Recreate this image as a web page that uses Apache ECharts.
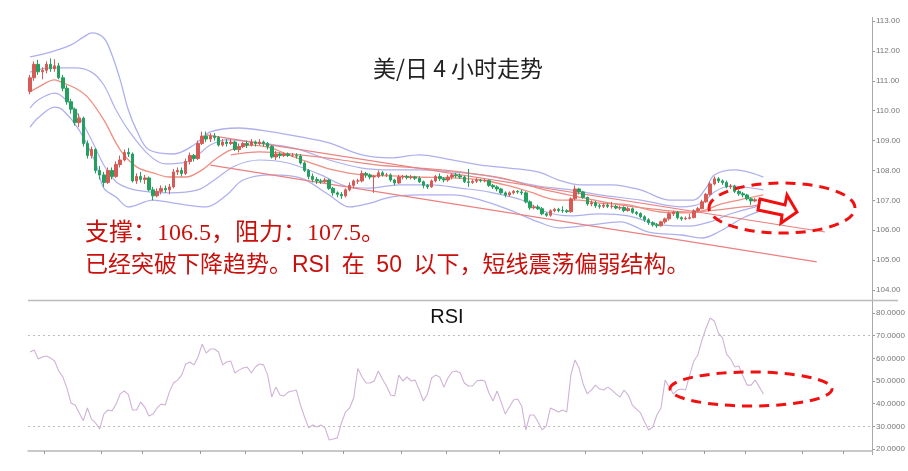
<!DOCTYPE html>
<html><head><meta charset="utf-8">
<script src="https://cdn.jsdelivr.net/npm/echarts@6/dist/echarts.min.js"></script>
<style>html,body{margin:0;padding:0;background:#fff}#c{width:908px;height:471px}</style>
</head><body><div id="c"></div>
<script>
// ---- data (4-hour USD/JPY candles) ----
const opens = [
110.65,111.10,111.55,111.30,111.35,111.55,111.40,111.50,111.10,110.75,
110.30,110.05,109.60,109.75,108.90,108.50,108.70,108.00,107.85,107.60,
108.00,107.80,108.20,108.35,108.60,108.55,107.65,107.80,107.70,107.75,
107.35,107.15,107.30,107.40,107.35,107.45,107.95,108.00,107.90,108.30,
108.50,108.40,108.90,109.15,109.05,109.15,109.10,108.85,108.95,108.90,
108.95,108.70,108.80,108.90,108.85,108.95,108.90,108.95,108.90,108.80,
108.45,108.55,108.50,108.55,108.50,108.50,108.48,108.25,108.00,107.80,
107.70,107.65,107.62,107.68,107.40,107.25,107.20,107.15,107.35,107.50,
107.65,107.65,107.90,107.85,107.78,107.80,107.92,107.85,107.85,107.68,
107.58,107.78,107.80,107.76,107.78,107.74,107.62,107.50,107.45,107.65,
107.80,107.72,107.68,107.78,107.85,107.82,107.78,107.62,107.60,107.64,
107.68,107.66,107.66,107.50,107.45,107.38,107.25,107.18,107.25,107.30,
107.28,107.25,106.95,106.75,106.78,106.72,106.55,106.50,106.65,106.70,
106.66,106.65,106.62,107.05,107.38,107.28,107.10,106.88,106.92,106.82,
106.80,106.84,106.80,106.80,106.74,106.76,106.66,106.72,106.60,106.56,
106.45,106.35,106.25,106.18,106.15,106.28,106.38,106.55,106.60,106.42,
106.38,106.40,106.42,106.65,106.72,106.95,107.20,107.55,107.72,107.65,
107.60,107.45,107.48,107.30,107.22,107.18,107.05,106.98,107.02,106.96];
const closes = [
111.10,111.55,111.30,111.35,111.55,111.40,111.50,111.10,110.75,110.30,
110.05,109.60,109.75,108.90,108.50,108.70,108.00,107.85,107.60,108.00,
107.80,108.20,108.35,108.60,108.55,107.65,107.80,107.70,107.75,107.35,
107.15,107.30,107.40,107.35,107.45,107.95,108.00,107.90,108.30,108.50,
108.40,108.90,109.15,109.05,109.15,109.10,108.85,108.95,108.90,108.95,
108.70,108.80,108.90,108.85,108.95,108.90,108.95,108.90,108.80,108.45,
108.55,108.50,108.55,108.50,108.50,108.48,108.25,108.00,107.80,107.70,
107.65,107.62,107.68,107.40,107.25,107.20,107.15,107.35,107.50,107.65,
107.65,107.90,107.85,107.78,107.80,107.92,107.85,107.85,107.68,107.58,
107.78,107.80,107.76,107.78,107.74,107.62,107.50,107.45,107.65,107.80,
107.72,107.68,107.78,107.85,107.82,107.78,107.62,107.60,107.64,107.68,
107.66,107.66,107.50,107.45,107.38,107.25,107.18,107.25,107.30,107.28,
107.25,106.95,106.75,106.78,106.72,106.55,106.50,106.65,106.70,106.66,
106.65,106.62,107.05,107.38,107.28,107.10,106.88,106.92,106.82,106.80,
106.84,106.80,106.80,106.74,106.76,106.66,106.72,106.60,106.56,106.45,
106.35,106.25,106.18,106.15,106.28,106.38,106.55,106.60,106.42,106.38,
106.40,106.42,106.65,106.72,106.95,107.20,107.55,107.72,107.65,107.60,
107.45,107.48,107.30,107.22,107.18,107.05,106.98,107.02,106.96,106.92];
const lows = [
110.55,111.00,111.20,111.05,111.25,111.30,111.30,111.05,110.65,110.20,
109.90,109.50,109.45,108.80,108.40,108.40,107.90,107.70,107.45,107.55,
107.70,107.75,108.10,108.30,108.45,107.60,107.55,107.60,107.55,107.30,
107.00,107.10,107.20,107.25,107.20,107.40,107.85,107.80,107.85,108.20,
108.30,108.35,108.85,108.95,108.95,109.00,108.80,108.80,108.80,108.85,
108.65,108.60,108.75,108.75,108.80,108.80,108.85,108.80,108.70,108.40,
108.35,108.40,108.45,108.45,108.45,108.40,108.20,107.95,107.70,107.60,
107.55,107.55,107.58,107.35,107.15,107.10,107.05,107.10,107.30,107.40,
107.55,107.60,107.75,107.70,107.25,107.75,107.80,107.78,107.62,107.50,
107.55,107.70,107.70,107.70,107.68,107.58,107.40,107.38,107.42,107.60,
107.65,107.60,107.62,107.70,107.75,107.72,107.58,107.45,107.55,107.58,
107.60,107.60,107.45,107.38,107.30,107.20,107.10,107.12,107.20,107.22,
107.18,106.90,106.68,106.70,106.68,106.50,106.45,106.45,106.60,106.60,
106.58,106.58,106.58,107.00,107.20,107.05,106.82,106.80,106.75,106.72,
106.74,106.74,106.72,106.70,106.68,106.60,106.62,106.55,106.50,106.40,
106.28,106.18,106.12,106.08,106.12,106.22,106.32,106.48,106.36,106.32,
106.34,106.36,106.40,106.60,106.70,106.92,107.15,107.50,107.58,107.52,
107.40,107.38,107.25,107.15,107.10,107.00,106.85,106.94,106.90,106.86];
const highs = [
111.20,111.65,111.70,111.45,111.65,111.75,111.72,111.60,111.20,110.85,
110.40,110.10,109.90,109.80,109.00,108.80,108.75,108.15,107.95,108.10,
108.10,108.30,108.50,108.70,108.75,108.60,107.90,107.95,107.85,107.80,
107.45,107.40,107.50,107.50,107.55,108.05,108.10,108.10,108.40,108.60,
108.55,109.00,109.30,109.30,109.25,109.25,109.15,109.05,109.05,109.05,
109.00,108.90,108.95,109.00,109.05,109.00,109.05,109.00,108.95,108.85,
108.65,108.60,108.60,108.60,108.58,108.58,108.55,108.30,108.05,107.90,
107.78,107.72,107.75,107.72,107.45,107.30,107.28,107.40,107.60,107.70,
107.72,108.00,107.95,107.90,107.85,108.00,107.98,107.92,107.90,107.72,
107.85,107.85,107.85,107.85,107.82,107.80,107.66,107.55,107.70,107.85,
107.90,107.78,107.85,107.90,107.92,107.90,107.82,108.05,107.70,107.75,
107.72,107.72,107.70,107.55,107.50,107.42,107.30,107.30,107.35,107.34,
107.35,107.30,107.00,106.85,106.85,106.78,106.60,106.70,106.75,106.75,
106.80,106.70,107.10,107.50,107.42,107.32,107.12,107.00,106.98,106.88,
106.92,106.90,106.95,106.85,106.82,106.80,106.78,106.76,106.64,106.60,
106.50,106.40,106.30,106.24,106.32,106.42,106.62,106.65,106.64,106.46,
106.46,106.55,106.70,106.78,107.02,107.25,107.62,107.80,107.78,107.70,
107.66,107.55,107.52,107.36,107.28,107.22,107.10,107.08,107.06,107.00];
const rsi = [
62.8,63.7,59.7,60.6,61.0,60.1,58.8,54.4,51.8,46.9,
40.3,39.4,35.9,32.5,38.1,33.2,31.5,28.8,35.4,37.2,
36.8,39.8,44.3,45.6,44.0,37.2,37.2,40.7,38.5,34.6,
35.4,38.1,39.8,39.4,45.1,49.1,50.4,52.6,57.5,58.4,
57.1,60.6,66.3,62.3,64.1,64.1,62.8,57.1,58.4,58.8,
53.5,54.8,55.7,56.2,53.5,56.2,57.5,57.1,52.6,42.9,
47.3,43.8,43.4,45.1,45.6,46.0,39.4,34.1,29.3,30.6,
29.7,30.6,29.3,24.0,24.4,24.9,31.5,36.3,38.1,42.5,
55.5,52.0,49.1,49.1,50.0,54.4,50.9,47.8,43.8,43.4,
52.6,50.0,51.8,50.0,50.4,46.0,41.2,44.3,51.3,52.6,
51.8,47.3,51.3,54.0,54.4,53.5,49.1,47.8,47.8,50.0,
50.4,50.0,44.7,41.2,45.6,40.7,35.4,38.5,41.6,42.1,
39.0,28.4,35.0,35.0,31.9,28.4,30.1,38.1,37.2,36.3,
37.2,36.3,52.6,59.3,55.7,48.7,44.3,46.0,48.2,46.5,
46.0,47.3,46.0,44.3,42.9,46.0,43.8,39.4,37.6,35.9,
31.9,28.4,29.7,35.0,38.1,50.4,47.3,44.3,46.0,46.5,
46.0,52.6,58.8,61.5,68.1,73.4,77.8,76.5,71.2,69.0,
61.9,59.7,56.2,56.6,52.2,48.2,48.2,50.4,47.3,44.3];
// indicator lines read at sparse points: [candle index, price]
const bandOuterUpper = [[0,111.80],[5,111.96],[10,112.20],[13,112.46],[15,112.60],[18,112.43],[20,111.86],[22,111.03],[24,110.02],[26,109.35],[29,108.69],[35,108.55],[40,108.85],[44,109.29],[51,109.42],[59,109.29],[66,109.12],[73,108.92],[81,108.52],[88,108.42],[95,108.52],[103,108.35],[110,108.18],[117,108.08],[124,107.95],[129,107.68],[134,107.52],[142,107.52],[149,107.35],[156,107.01],[162,107.01],[165,107.41],[167,107.85],[172,108.02],[179,107.78]];
const bandInnerUpper = [[0,111.29],[5,111.43],[11,111.43],[15,111.29],[18,110.86],[21,110.02],[24,109.35],[29,108.52],[33,108.22],[38,108.28],[41,108.52],[44,108.85],[48,109.02],[54,108.95],[60,108.85],[66,108.69],[73,108.35],[81,108.08],[88,108.02],[95,108.02],[103,107.95],[110,107.85],[117,107.68],[124,107.48],[132,107.35],[139,107.18],[149,107.01],[159,106.78],[164,106.91],[167,107.28],[171,107.48],[179,107.35]];
const maMiddle = [[0,110.63],[2,110.79],[6,111.03],[8,110.93],[11,110.76],[14,110.46],[18,109.69],[22,108.69],[26,108.12],[30,107.92],[34,107.78],[38,107.78],[42,108.02],[45,108.35],[49,108.69],[54,108.85],[59,108.75],[63,108.52],[68,108.28],[74,108.02],[81,107.85],[88,107.82],[95,107.78],[103,107.75],[110,107.68],[117,107.48],[122,107.28],[129,107.01],[134,107.01],[139,106.91],[146,106.85],[154,106.61],[161,106.58],[165,106.68],[168,106.85],[173,107.01],[179,107.18]];
const maSlow = [[49,108.52],[56,108.62],[66,108.52],[76,108.35],[85,108.18],[95,108.08],[105,107.95],[115,107.75],[124,107.41],[134,107.11],[144,106.85],[154,106.68],[161,106.61],[168,106.68],[174,106.78],[179,106.85]];
const bandInnerLower = [[0,110.09],[2,110.36],[6,110.59],[8,110.46],[11,110.02],[15,109.02],[18,108.18],[21,107.62],[24,107.41],[29,107.28],[34,107.25],[41,107.35],[45,107.68],[50,108.15],[56,108.35],[63,108.25],[71,107.85],[77,107.48],[83,107.41],[90,107.52],[98,107.52],[105,107.41],[112,107.28],[120,107.01],[126,106.61],[132,106.48],[139,106.55],[146,106.48],[154,106.18],[161,106.14],[166,106.28],[171,106.55],[179,106.85]];
const bandOuterLower = [[0,109.45],[2,109.76],[6,110.12],[8,110.02],[12,109.35],[16,108.25],[18,107.41],[21,107.11],[24,106.78],[30,107.01],[35,106.91],[43,106.78],[48,107.18],[52,107.68],[59,107.85],[66,107.75],[73,107.18],[78,106.78],[83,106.91],[88,107.11],[95,107.18],[103,107.18],[110,107.01],[117,106.68],[124,106.28],[129,106.08],[137,106.18],[144,106.28],[151,105.94],[159,105.84],[164,105.74],[168,105.94],[174,106.41],[179,106.68]];
const trendUpper = [[43,109.19],[194,105.94]];
const trendLower = [[44,108.18],[192,104.94]];
const priceTicks = {min:104, max:113, step:1};
const rsiTicks = {min:20, max:80, step:10};
const rsiLevels = [70, 30];
const slotCount = 206;
const bottomTickSlots = [4,18,28,42,53,67,77,91,102,115,136,150,165,175,189,199];

const categories = Array.from({length: slotCount}, (_, i) => String(i));
const candles = opens.map((o, i) => [o, closes[i], lows[i], highs[i]]);
const tickSet = new Set(bottomTickSlots);

function ind(data, color, width) {
  return {type:'line', xAxisIndex:0, yAxisIndex:0, data, symbol:'none', smooth:0.35,
    lineStyle:{color, width}, silent:true, z:2, animation:false};
}
function straight(data, color) {
  return {type:'line', xAxisIndex:0, yAxisIndex:0, data, symbol:'none',
    lineStyle:{color, width:1.2}, silent:true, z:2, animation:false};
}

const chart = echarts.init(document.getElementById('c'), null, {renderer:'canvas'});
const lav = '#aeb0ee', sal = '#ef8f82';
const sp = '\u2002';
chart.setOption({
  animation:false,
  backgroundColor:'#fff',
  grid:[
    {left:28, right:36, top:21, height:269},
    {left:28, right:36, top:313, height:136}
  ],
  xAxis:[
    {type:'category', gridIndex:0, data:categories, show:false, boundaryGap:true},
    {type:'category', gridIndex:1, data:categories, boundaryGap:true, offset:2,
      axisLine:{show:true, lineStyle:{color:'#b8b8b8', width:1.5}},
      axisTick:{show:true, length:3, interval:(i)=>tickSet.has(i), lineStyle:{color:'#999'}},
      axisLabel:{show:false}, splitLine:{show:false}}
  ],
  yAxis:[
    {type:'value', gridIndex:0, position:'right', min:priceTicks.min, max:priceTicks.max, interval:priceTicks.step,
      axisLine:{show:false}, axisTick:{show:true, length:3, lineStyle:{color:'#999'}},
      axisLabel:{fontSize:8, color:'#777', margin:4, fontFamily:'Liberation Sans', formatter:v=>v.toFixed(2)},
      splitLine:{show:false}},
    {type:'value', gridIndex:1, position:'right', min:rsiTicks.min, max:rsiTicks.max, interval:rsiTicks.step,
      axisLine:{show:false}, axisTick:{show:true, length:3, lineStyle:{color:'#999'}},
      axisLabel:{fontSize:8, color:'#777', margin:4, fontFamily:'Liberation Sans', formatter:v=>v.toFixed(4)},
      splitLine:{show:false}}
  ],
  series:[
    ind(bandOuterUpper, lav, 1.3),
    ind(bandInnerUpper, lav, 1.2),
    ind(maSlow, '#e98a84', 1.2),
    ind(maMiddle, sal, 1.3),
    ind(bandInnerLower, lav, 1.2),
    ind(bandOuterLower, lav, 1.3),
    straight(trendUpper, '#ec8080'),
    straight(trendLower, '#ec8080'),
    {type:'candlestick', xAxisIndex:0, yAxisIndex:0, data:candles, barWidth:3, z:3,
      itemStyle:{color:'#d65a55', color0:'#23a05e', borderColor:'#d65a55', borderColor0:'#23a05e', borderWidth:1}},
    {type:'line', xAxisIndex:1, yAxisIndex:1, data:rsi, symbol:'none',
      lineStyle:{color:'#cfb2d6', width:1.1}, silent:true,
      markLine:{silent:true, symbol:['none','none'], label:{show:false},
        lineStyle:{color:'#bdbdbd', type:[2,3], width:1},
        data:rsiLevels.map(v=>({yAxis:v}))}}
  ],
  graphic:[
    {type:'line', z:50, shape:{x1:872.5,y1:17,x2:872.5,y2:455}, style:{stroke:'#aaa', lineWidth:1}},
    {type:'line', z:50, shape:{x1:28,y1:300.5,x2:898,y2:300.5}, style:{stroke:'#bbb', lineWidth:1.5}},
    {type:'text', z:50, style:{text:'美/日 4 小时走势', x:458, y:68, font:'23px "Noto Sans CJK SC"', fill:'#222', align:'center', verticalAlign:'middle', textAlign:'center', textVerticalAlign:'middle'}},
    {type:'text', z:50, style:{text:'RSI', x:447, y:317, font:'20px "Liberation Sans"', fill:'#111', align:'center', verticalAlign:'middle', textAlign:'center', textVerticalAlign:'middle'}},
    {type:'text', z:50, style:{text:'支撑：106.5，阻力：107.5。', x:85, y:234, font:'24px "Liberation Serif", "Noto Sans CJK SC"', fill:'#c8100c', align:'left', verticalAlign:'middle', textAlign:'left', textVerticalAlign:'middle'}},
    {type:'text', z:50, style:{text:'已经突破下降趋势。RSI' + sp + '在' + sp + '50' + sp + '以下，短线震荡偏弱结构。', x:85, y:266, font:'23px "Liberation Sans", "Noto Sans CJK SC"', fill:'#c8100c', align:'left', verticalAlign:'middle', textAlign:'left', textVerticalAlign:'middle'}},
    {type:'ellipse', z:60, shape:{cx:782, cy:208, rx:73, ry:25}, style:{fill:'none', stroke:'#f01010', lineWidth:3, lineDash:[10,7]}},
    {type:'ellipse', z:60, shape:{cx:751, cy:389, rx:81, ry:17}, style:{fill:'none', stroke:'#f01010', lineWidth:3, lineDash:[10,7]}},
    {type:'polygon', z:61, shape:{points:[[760,199],[785,205],[787,195],[797,212],[781,223],[782,215],[758,210]]}, style:{fill:'#fff', stroke:'#f01010', lineWidth:3}}
  ]
});
</script></body></html>
